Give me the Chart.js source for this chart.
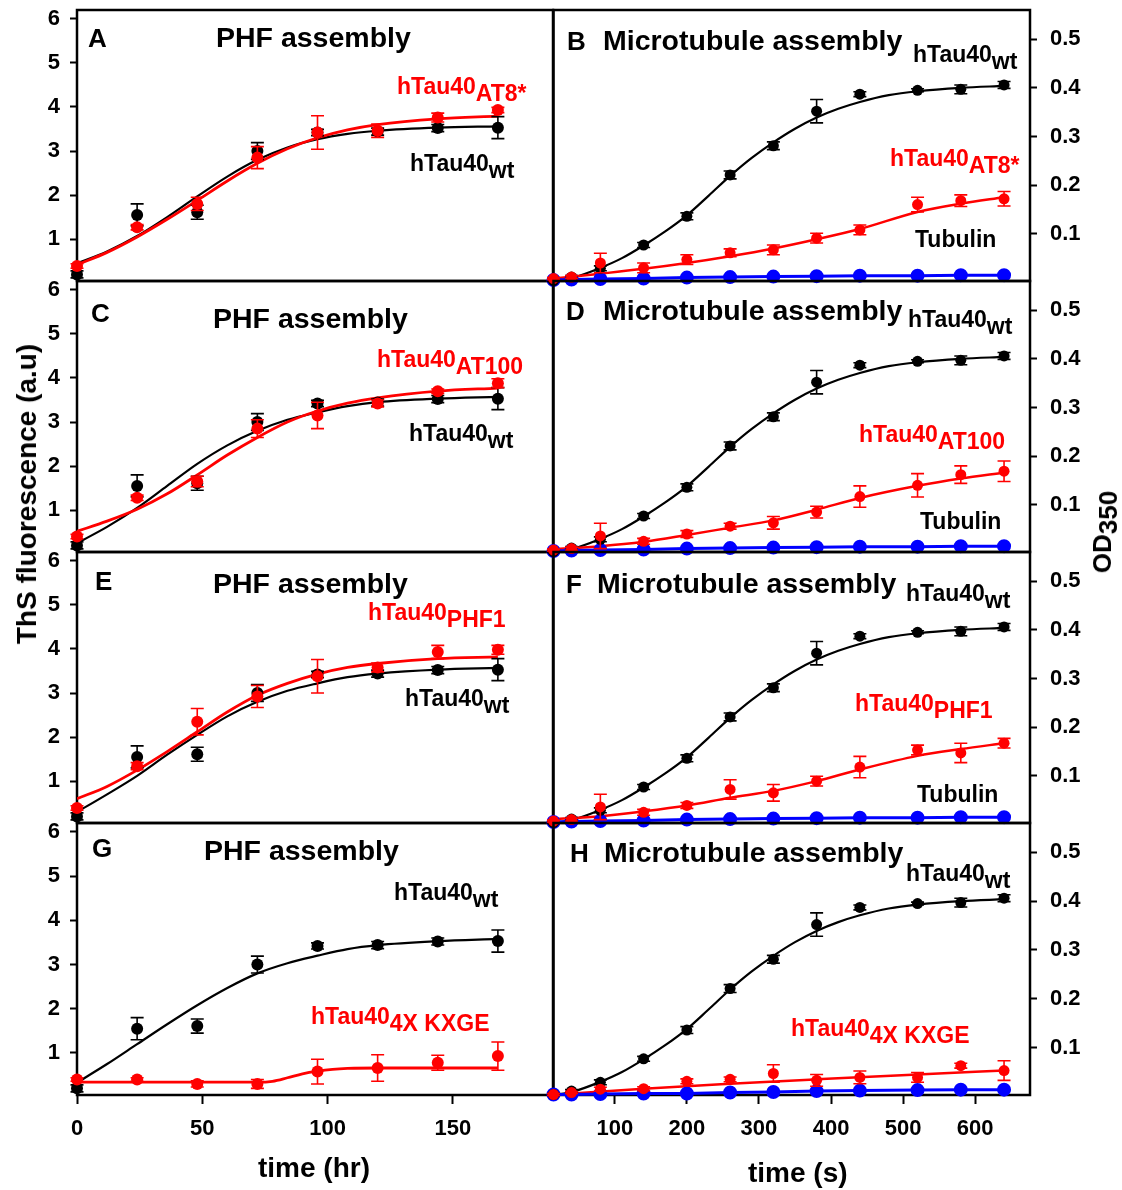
<!DOCTYPE html>
<html lang="en">
<head>
  <meta charset="UTF-8" />
  <title>PHF and microtubule assembly</title>
  <script src="https://cdn.jsdelivr.net/npm/chart.js"></script>
  <style>
    body { margin: 0; background: #fff; }
    #fig {
      position: relative;
      width: 1122px;
      height: 1190px;
      font-family: "Liberation Sans", Arial, sans-serif;
      font-weight: bold;
    }
    .txt { position: absolute; white-space: nowrap; line-height: 1; }
    .sub { position: relative; top: 7px; }
  </style>
</head>
<body>
  <div id="fig"></div>

  <script>
    // ---- left column: ThS fluorescence vs time (hr) ----
    const hrTimes = [0, 24, 48, 72, 96, 120, 144, 168];
    const hrTicks = [0, 50, 100, 150];
    const thsTicks = [1, 2, 3, 4, 5, 6];

    const wtThS     = [0.2, 1.55, 1.61, 3.0, 3.42, 3.44, 3.52, 3.53];
    const wtThSErr  = [0.08, 0.25, 0.16, 0.19, 0.07, 0.08, 0.08, 0.25];
    const at8ThS    = [0.39, 1.27, 1.8, 2.85, 3.42, 3.46, 3.76, 3.93];
    const at8ThSErr = [0.05, 0.06, 0.15, 0.25, 0.38, 0.15, 0.1, 0.06];
    const at100ThS    = [0.4, 1.28, 1.65, 2.85, 3.15, 3.42, 3.7, 3.88];
    const at100ThSErr = [0.05, 0.06, 0.12, 0.2, 0.3, 0.08, 0.05, 0.1];
    const phf1ThS    = [0.39, 1.34, 2.35, 2.92, 3.38, 3.58, 3.93, 3.98];
    const phf1ThSErr = [0.05, 0.08, 0.3, 0.25, 0.38, 0.1, 0.15, 0.1];
    const kxgeThS    = [0.4, 0.4, 0.3, 0.3, 0.58, 0.66, 0.78, 0.93];
    const kxgeThSErr = [0.04, 0.04, 0.07, 0.1, 0.28, 0.3, 0.17, 0.32];

    // fitted curves
    const fitHr    = [0, 12, 24, 36, 48, 60, 72, 84, 96, 108, 120, 144, 168];
    const wtFitA   = [0.45, 0.72, 1.07, 1.5, 1.97, 2.42, 2.8, 3.08, 3.27, 3.39, 3.46, 3.53, 3.56];
    const at8Fit   = [0.42, 0.7, 1.05, 1.45, 1.88, 2.32, 2.72, 3.05, 3.3, 3.48, 3.6, 3.73, 3.79];
    const wtFitC   = [0.25, 0.62, 1.05, 1.55, 2.05, 2.47, 2.8, 3.05, 3.22, 3.36, 3.45, 3.53, 3.57];
    const at100Fit = [0.52, 0.75, 1.02, 1.37, 1.8, 2.25, 2.65, 3.0, 3.25, 3.43, 3.55, 3.7, 3.77];
    const wtFitE   = [0.3, 0.7, 1.12, 1.6, 2.05, 2.47, 2.8, 3.05, 3.22, 3.36, 3.44, 3.53, 3.57];
    const phf1Fit  = [0.6, 0.88, 1.25, 1.67, 2.12, 2.57, 2.95, 3.22, 3.43, 3.58, 3.67, 3.78, 3.82];
    const wtFitG   = [0.33, 0.75, 1.2, 1.65, 2.08, 2.47, 2.8, 3.03, 3.2, 3.35, 3.44, 3.53, 3.58];
    const kxgeFitHr = [0, 24, 48, 72, 78, 84, 90, 96, 102, 108, 120, 144, 168];
    const kxgeFit   = [0.34, 0.34, 0.34, 0.34, 0.36, 0.44, 0.53, 0.59, 0.63, 0.65, 0.66, 0.66, 0.66];

    // ---- right column: OD350 vs time (s) ----
    const sTimes = [15, 40, 80, 140, 200, 260, 320, 380, 440, 520, 580, 640];
    const sTicks = [100, 200, 300, 400, 500, 600];
    const odTicks = [0.1, 0.2, 0.3, 0.4, 0.5];

    const wtOD     = [0.004, 0.011, 0.029, 0.077, 0.136, 0.221, 0.281, 0.352, 0.387, 0.395, 0.397, 0.406];
    const wtODErr  = [0.002, 0.003, 0.005, 0.005, 0.007, 0.008, 0.008, 0.024, 0.005, 0.003, 0.009, 0.007];
    const at8OD    = [0.008, 0.011, 0.04, 0.03, 0.047, 0.061, 0.067, 0.091, 0.108, 0.16, 0.168, 0.172];
    const at8ODErr = [0.002, 0.003, 0.02, 0.01, 0.01, 0.008, 0.01, 0.01, 0.01, 0.015, 0.012, 0.015];
    const at100OD    = [0.007, 0.01, 0.036, 0.025, 0.04, 0.056, 0.063, 0.085, 0.117, 0.14, 0.162, 0.169];
    const at100ODErr = [0.002, 0.003, 0.026, 0.006, 0.007, 0.006, 0.013, 0.012, 0.022, 0.024, 0.018, 0.021];
    const phf1OD    = [0.007, 0.01, 0.036, 0.025, 0.039, 0.072, 0.065, 0.089, 0.118, 0.153, 0.147, 0.167];
    const phf1ODErr = [0.002, 0.003, 0.026, 0.006, 0.006, 0.02, 0.017, 0.01, 0.022, 0.01, 0.02, 0.01];
    const kxgeOD    = [0.004, 0.008, 0.015, 0.016, 0.031, 0.035, 0.047, 0.033, 0.039, 0.039, 0.063, 0.053];
    const kxgeODErr = [0.002, 0.002, 0.004, 0.004, 0.005, 0.005, 0.018, 0.012, 0.013, 0.01, 0.005, 0.02];
    const tubulinOD  = [0.005, 0.006, 0.007, 0.008, 0.01, 0.011, 0.012, 0.013, 0.014, 0.014, 0.015, 0.015];
    const tubulinODH = [0.004, 0.004, 0.005, 0.006, 0.006, 0.008, 0.009, 0.011, 0.012, 0.013, 0.014, 0.014];

    const wtFitS   = [15, 40, 80, 110, 140, 170, 200, 230, 260, 290, 320, 350, 380, 410, 440, 480, 520, 580, 640];
    const wtODFit  = [0.003, 0.009, 0.03, 0.05, 0.076, 0.105, 0.138, 0.178, 0.219, 0.256, 0.288, 0.316, 0.339, 0.357, 0.371, 0.385, 0.393, 0.4, 0.404];
    const redFitS  = [15, 80, 140, 200, 260, 320, 380, 440, 520, 580, 640];
    const at8ODFit   = [0.008, 0.018, 0.028, 0.04, 0.054, 0.07, 0.089, 0.11, 0.145, 0.162, 0.175];
    const at100ODFit = [0.009, 0.015, 0.024, 0.038, 0.053, 0.068, 0.09, 0.114, 0.139, 0.154, 0.166];
    const phf1ODFit  = [0.011, 0.017, 0.027, 0.039, 0.055, 0.069, 0.089, 0.113, 0.141, 0.155, 0.167];
    const kxgeFitS   = [15, 140, 260, 380, 520, 640];
    const kxgeODFit  = [0.003, 0.016, 0.026, 0.035, 0.045, 0.053];

    const RED = '#ff0000', BLUE = '#0000ff', BLACK = '#000000';
    const rowTop = [10, 281, 552, 823, 1095];
    const fig = document.getElementById('fig');

    Chart.defaults.font.family = '"Liberation Sans", Arial, sans-serif';
    Chart.defaults.font.weight = 'bold';

    const pts = (xs, ys) => xs.map((x, i) => ({ x: x, y: ys[i] }));

    function fitLine(xs, ys, color, width, order) {
      return { data: pts(xs, ys), showLine: true, pointRadius: 0, borderColor: color,
               borderWidth: width, cubicInterpolationMode: 'monotone', order: order };
    }
    function marks(xs, ys, errs, color, r, order) {
      return { data: pts(xs, ys), errors: errs, pointRadius: r, backgroundColor: color,
               borderColor: color, borderWidth: 0, clip: false, order: order };
    }
    function tubulin(ys) {
      return { data: pts(sTimes, ys), showLine: true, pointRadius: 5.5, backgroundColor: BLUE,
               borderColor: BLUE, borderWidth: 3, clip: false, order: 4 };
    }

    // box round the plot area
    const frame = {
      id: 'frame',
      beforeDatasetsDraw(chart) {
        const a = chart.chartArea, ctx = chart.ctx;
        ctx.save();
        ctx.lineWidth = 2.5;
        ctx.strokeStyle = BLACK;
        ctx.strokeRect(a.left, a.top, a.right - a.left, a.bottom - a.top);
        ctx.restore();
      }
    };

    // vertical error bars with caps, drawn under the points
    const errorBars = {
      id: 'errorBars',
      beforeDatasetDraw(chart, args) {
        const ds = chart.data.datasets[args.index];
        if (!ds.errors) return;
        const y = chart.scales.y, ctx = chart.ctx;
        ctx.save();
        ctx.strokeStyle = ds.borderColor;
        ctx.lineWidth = 1.6;
        args.meta.data.forEach((p, i) => {
          const v = ds.data[i].y, e = ds.errors[i];
          const t = y.getPixelForValue(v + e), b = y.getPixelForValue(v - e);
          ctx.beginPath();
          ctx.moveTo(p.x, t); ctx.lineTo(p.x, b);
          ctx.moveTo(p.x - 6.5, t); ctx.lineTo(p.x + 6.5, t);
          ctx.moveTo(p.x - 6.5, b); ctx.lineTo(p.x + 6.5, b);
          ctx.stroke();
        });
        ctx.restore();
      }
    };

    const tickFont = { size: 22, weight: 'bold' };
    const tickGrid = len => ({ drawOnChartArea: false, drawTicks: true, tickLength: len,
                               tickWidth: 2, tickColor: BLACK, color: BLACK });
    const noPad = s => { s.paddingTop = 0; s.paddingBottom = 0; s.paddingLeft = 0; s.paddingRight = 0; };

    function panel(left, row, datasets) {
      const bottom = row === 3;
      const top = rowTop[row], h = rowTop[row + 1] - top;
      const w = left ? 560 : 577;
      const cv = document.createElement('canvas');
      cv.width = w;
      cv.height = 10 + h + (bottom ? 95 : 10);
      cv.style.cssText = `position:absolute;left:${left ? 0 : 545}px;top:${top - 10}px;`;
      fig.appendChild(cv);

      new Chart(cv, {
        type: 'scatter',
        data: { datasets: datasets },
        options: {
          responsive: false,
          animation: false,
          layout: { padding: { left: left ? 0 : 8, right: left ? 7 : 0, top: 10, bottom: bottom ? 0 : 10 } },
          plugins: { legend: { display: false }, tooltip: { enabled: false } },
          scales: {
            x: {
              min: left ? 0 : 15, max: left ? 190 : 676,
              display: bottom,
              afterBuildTicks: s => { s.ticks = (left ? hrTicks : sTicks).map(v => ({ value: v })); },
              afterFit: s => { s.height = bottom ? 95 : 0; noPad(s); },
              grid: tickGrid(9),
              border: { display: false },
              ticks: { color: BLACK, font: tickFont, padding: 12, maxRotation: 0, autoSkip: false }
            },
            y: {
              position: left ? 'left' : 'right',
              min: left ? 0.05 : 0.003, max: left ? 6.2 : 0.56,
              afterBuildTicks: s => { s.ticks = (left ? thsTicks : odTicks).map(v => ({ value: v })); },
              afterFit: s => { s.width = left ? 77 : 92; noPad(s); },
              grid: tickGrid(7),
              border: { display: false },
              ticks: { color: BLACK, font: tickFont, padding: left ? 10 : 13,
                       callback: v => left ? String(v) : Number(v).toFixed(1) }
            }
          }
        },
        plugins: [frame, errorBars]
      });
    }

    // left panels
    panel(true, 0, [
      fitLine(fitHr, wtFitA, BLACK, 2.2, 6), fitLine(fitHr, at8Fit, RED, 2.8, 5),
      marks(hrTimes, wtThS, wtThSErr, BLACK, 6, 2), marks(hrTimes, at8ThS, at8ThSErr, RED, 6, 1)
    ]);
    panel(true, 1, [
      fitLine(fitHr, wtFitC, BLACK, 2.2, 6), fitLine(fitHr, at100Fit, RED, 2.8, 5),
      marks(hrTimes, wtThS, wtThSErr, BLACK, 6, 2), marks(hrTimes, at100ThS, at100ThSErr, RED, 6, 1)
    ]);
    panel(true, 2, [
      fitLine(fitHr, wtFitE, BLACK, 2.2, 6), fitLine(fitHr, phf1Fit, RED, 2.8, 5),
      marks(hrTimes, wtThS, wtThSErr, BLACK, 6, 2), marks(hrTimes, phf1ThS, phf1ThSErr, RED, 6, 1)
    ]);
    panel(true, 3, [
      fitLine(fitHr, wtFitG, BLACK, 2.2, 6), fitLine(kxgeFitHr, kxgeFit, RED, 2.8, 5),
      marks(hrTimes, wtThS, wtThSErr, BLACK, 6, 2), marks(hrTimes, kxgeThS, kxgeThSErr, RED, 6, 1)
    ]);

    // right panels
    panel(false, 0, [
      fitLine(wtFitS, wtODFit, BLACK, 2.2, 6), fitLine(redFitS, at8ODFit, RED, 2.5, 5), tubulin(tubulinOD),
      marks(sTimes, wtOD, wtODErr, BLACK, 5.5, 2), marks(sTimes, at8OD, at8ODErr, RED, 5.5, 1)
    ]);
    panel(false, 1, [
      fitLine(wtFitS, wtODFit, BLACK, 2.2, 6), fitLine(redFitS, at100ODFit, RED, 2.5, 5), tubulin(tubulinOD),
      marks(sTimes, wtOD, wtODErr, BLACK, 5.5, 2), marks(sTimes, at100OD, at100ODErr, RED, 5.5, 1)
    ]);
    panel(false, 2, [
      fitLine(wtFitS, wtODFit, BLACK, 2.2, 6), fitLine(redFitS, phf1ODFit, RED, 2.5, 5), tubulin(tubulinOD),
      marks(sTimes, wtOD, wtODErr, BLACK, 5.5, 2), marks(sTimes, phf1OD, phf1ODErr, RED, 5.5, 1)
    ]);
    panel(false, 3, [
      fitLine(wtFitS, wtODFit, BLACK, 2.2, 6), fitLine(kxgeFitS, kxgeODFit, RED, 2.5, 5), tubulin(tubulinODH),
      marks(sTimes, wtOD, wtODErr, BLACK, 5.5, 2), marks(sTimes, kxgeOD, kxgeODErr, RED, 5.5, 1)
    ]);

    // ---- text ----
    function txt(x, base, html, size, color) {
      const d = document.createElement('div');
      d.className = 'txt';
      d.style.cssText = `left:${x}px;top:${base - 0.85 * size}px;font-size:${size}px;color:${color || BLACK};`;
      d.innerHTML = html;
      fig.appendChild(d);
    }
    const tau = sub => `hTau40<span class="sub">${sub}</span>`;

    const letters = [['A', 88, 47], ['B', 567, 50], ['C', 91, 322], ['D', 566, 320],
                     ['E', 95, 590], ['F', 566, 593], ['G', 92, 857], ['H', 570, 862]];
    letters.forEach(l => txt(l[1], l[2], l[0], 26));

    txt(216, 47, 'PHF assembly', 28.5);
    txt(213, 328, 'PHF assembly', 28.5);
    txt(213, 593, 'PHF assembly', 28.5);
    txt(204, 860, 'PHF assembly', 28.5);
    txt(603, 50, 'Microtubule assembly', 28.5);
    txt(603, 320, 'Microtubule assembly', 28.5);
    txt(597, 593, 'Microtubule assembly', 28.5);
    txt(604, 862, 'Microtubule assembly', 28.5);

    txt(397, 95, tau('AT8*'), 23, RED);
    txt(410, 172, tau('wt'), 23);
    txt(913, 63, tau('wt'), 23);
    txt(890, 167, tau('AT8*'), 23, RED);
    txt(915, 248, 'Tubulin', 23);

    txt(377, 368, tau('AT100'), 23, RED);
    txt(409, 442, tau('wt'), 23);
    txt(908, 328, tau('wt'), 23);
    txt(859, 443, tau('AT100'), 23, RED);
    txt(920, 530, 'Tubulin', 23);

    txt(368, 621, tau('PHF1'), 23, RED);
    txt(405, 707, tau('wt'), 23);
    txt(906, 602, tau('wt'), 23);
    txt(855, 712, tau('PHF1'), 23, RED);
    txt(917, 803, 'Tubulin', 23);

    txt(394, 901, tau('wt'), 23);
    txt(311, 1025, tau('4X KXGE'), 23, RED);
    txt(906, 882, tau('wt'), 23);
    txt(791, 1037, tau('4X KXGE'), 23, RED);

    txt(258, 1178, 'time (hr)', 28);
    txt(748, 1183, 'time (s)', 28);

    const yTitle = document.createElement('div');
    yTitle.className = 'txt';
    yTitle.style.cssText = 'left:27px;top:494px;font-size:28px;transform:translate(-50%,-50%) rotate(-90deg);';
    yTitle.textContent = 'ThS fluorescence (a.u)';
    fig.appendChild(yTitle);

    const odTitle = document.createElement('div');
    odTitle.className = 'txt';
    odTitle.style.cssText = 'left:1102px;top:532px;font-size:26px;transform:translate(-50%,-50%) rotate(-90deg);';
    odTitle.innerHTML = 'OD<span style="position:relative;top:6px">350</span>';
    fig.appendChild(odTitle);
  </script>
</body>
</html>
